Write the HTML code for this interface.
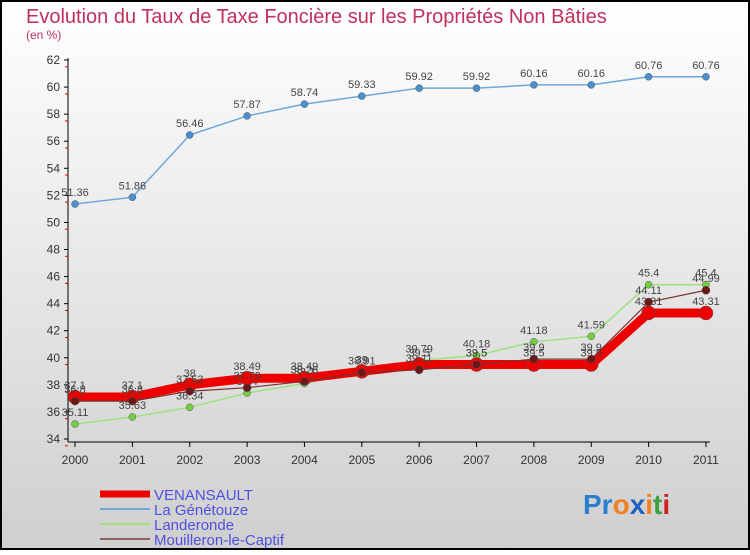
<!DOCTYPE html>
<html><head><meta charset="utf-8"><style>
html,body{margin:0;padding:0;}
body{width:750px;height:550px;overflow:hidden;font-family:"Liberation Sans",sans-serif;}
</style></head><body>
<svg id="chart" width="750" height="550" xmlns="http://www.w3.org/2000/svg">
<defs><linearGradient id="bg" x1="0" y1="0" x2="0" y2="1"><stop offset="0" stop-color="#ffffff"/><stop offset="1" stop-color="#cfcfcf"/></linearGradient></defs>
<rect x="1" y="1" width="748" height="548" fill="url(#bg)" stroke="#000" stroke-width="2"/>
<text x="26" y="23" font-size="20" fill="#c0305a">Evolution du Taux de Taxe Foncière sur les Propriétés Non Bâties</text>
<text x="26" y="39" font-size="12" fill="#c0305a">(en %)</text>
<g id="axes"></g><g id="series"></g><g id="legend"></g>
<text x="583" y="514" font-size="28" font-weight="bold"><tspan fill="#2a7fd0">Pr</tspan><tspan fill="#f08020">o</tspan><tspan fill="#2060c0">x</tspan><tspan fill="#f08020">i</tspan><tspan fill="#40a040">t</tspan><tspan fill="#d02020">i</tspan></text>
</svg>
<script>
const years=["2000","2001","2002","2003","2004","2005","2006","2007","2008","2009","2010","2011"];
const yTicks=[34,36,38,40,42,44,46,48,50,52,54,56,58,60,62];
const venansault=[37.1,37.1,38,38.49,38.49,39,39.5,39.5,39.5,39.5,43.31,43.31];
const genetouze=[51.36,51.86,56.46,57.87,58.74,59.33,59.92,59.92,60.16,60.16,60.76,60.76];
const landeronde=[35.11,35.63,36.34,37.4,38.1,39,39.79,40.18,41.18,41.59,45.4,45.4];
const mouilleron=[36.8,36.8,37.53,37.79,38.26,38.91,39.11,39.5,39.9,39.9,44.11,44.99];
const names=["VENANSAULT","La Génétouze","Landeronde","Mouilleron-le-Captif"];
const NS="http://www.w3.org/2000/svg";
const xS=i=>75+i*57.36, yS=v=>439-(v-34)*(379/28);
function mk(p,t,a){const e=document.createElementNS(NS,t);for(const k in a)e.setAttribute(k,a[k]);p.appendChild(e);return e;}
const ax=document.getElementById('axes');
let l=mk(ax,'line',{x1:68,y1:58,x2:68,y2:442,stroke:'#000'});


l=mk(ax,'line',{x1:68,y1:442,x2:710,y2:442,stroke:'#000'});


yTicks.forEach(v=>{const y=yS(v);
 mk(ax,'line',{x1:64,y1:y,x2:68,y2:y,stroke:'#000'});
 mk(ax,'line',{x1:65,y1:y+6.8,x2:68,y2:y+6.8,stroke:'#d00'});
 const t=mk(ax,'text',{x:60,y:y+4,'font-size':12,fill:'#333','text-anchor':'end'});t.textContent=v;
 
 });
years.forEach((yr,i)=>{const x=xS(i);
 mk(ax,'line',{x1:x,y1:442,x2:x,y2:447,stroke:'#000'});
 const t=mk(ax,'text',{x:x,y:464,'font-size':12,fill:'#333','text-anchor':'middle'});t.textContent=yr;
 
 });
const sg=document.getElementById('series');
function draw(vals,col,w,r,dot,nm,order){
 const g=mk(sg,'g',{});
 
 
 mk(g,'polyline',{points:vals.map((v,i)=>xS(i)+','+yS(v)).join(' '),fill:'none',stroke:col,'stroke-width':w,'stroke-linejoin':'round'});
 vals.forEach((v,i)=>{const c=mk(g,'circle',{cx:xS(i),cy:yS(v),r:r,fill:dot,stroke:'#555','stroke-width':0.5});
  
  
  const t=mk(g,'text',{x:xS(i),y:yS(v)-8,'font-size':11,fill:'#444','text-anchor':'middle'});t.textContent=v;
  
  });
}
draw(genetouze,'#6fa8d8',1.5,3.5,'#4a90d0','genetouze');
draw(landeronde,'#a0e080',1.5,3.5,'#70d040','landeronde');
draw(venansault,'#ee0000',9,7,'#ee0000','venansault');
draw(mouilleron,'#7a3030',1.2,4,'#6a1818','mouilleron');
const lg=document.getElementById('legend');
const lc=[['#ee0000',7],['#6fa8d8',2],['#a0e080',2],['#906060',2]];
names.forEach((n,i)=>{const y=494+i*15;
 const r=mk(lg,'line',{x1:100,y1:y,x2:150,y2:y,stroke:lc[i][0],'stroke-width':lc[i][1]});
 
 
 const t=mk(lg,'text',{x:154,y:y+6,'font-size':15,fill:'#5050e0'});t.textContent=n;
 
 });
</script>
</body></html>
